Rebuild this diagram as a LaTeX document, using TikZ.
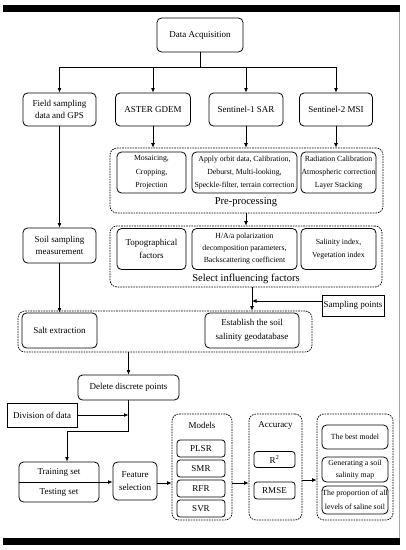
\documentclass[tikz,border=0pt]{standalone}
\usepackage{fontspec}
\setmainfont{Liberation Serif}
\usetikzlibrary{arrows.meta,calc}
\begin{document}
\begin{tikzpicture}[x=1pt,y=-1pt,
  box/.style={draw,rounded corners=4.5pt,line width=0.8pt,align=center,inner sep=0pt,font=\fontsize{9}{12.5}\selectfont},
  small/.style={box,font=\fontsize{7.8}{13.3}\selectfont},
  sq/.style={draw,line width=0.8pt,align=center,inner sep=0pt,font=\fontsize{9}{12}\selectfont},
  grp/.style={draw,rounded corners=7pt,line width=0.7pt,dash pattern=on 1.6pt off 1pt,inner sep=0pt},
  lbl/.style={inner sep=0pt,font=\fontsize{9}{12}\selectfont},
  biglbl/.style={inner sep=0pt,font=\fontsize{10.5}{13}\selectfont},
  arr/.style={-{Latex[length=4.5pt,width=3.8pt]},line width=0.7pt},
  ln/.style={line width=0.7pt}]
\useasboundingbox (0,0) rectangle (406,550);
% frame bars
\fill[black] (3,5) rectangle (400,11.5);
\fill[black] (3,538) rectangle (400,545);
\draw[black!35,line width=1.2pt] (399.5,11.5) -- (399.5,538);

% top row
\node[box,minimum width=86pt,minimum height=34pt] (da) at (200,35) {Data Acquisition};
\node[box,minimum width=73pt,minimum height=33pt] (field) at (59.5,109.5) {Field sampling\\data and GPS};
\node[box,minimum width=75pt,minimum height=33pt] (aster) at (153,109.5) {ASTER GDEM};
\node[box,minimum width=74pt,minimum height=33pt] (s1) at (246,109.5) {Sentinel-1 SAR};
\node[box,minimum width=73pt,minimum height=33pt] (s2) at (336,109.5) {Sentinel-2 MSI};
\coordinate (hub) at (200,67);
\draw[ln] (da.south) -- (hub);
\draw[ln] (field.north |- hub) -- (s2.north |- hub);
\foreach \n in {field,aster,s1,s2} \draw[arr] (\n.north |- hub) -- (\n.north);

% pre-processing
\node[grp,minimum width=273pt,minimum height=65pt] (pre) at (246.5,180.5) {};
\node[small,minimum width=69pt,minimum height=41pt] (mos) at (151.5,172.5) {Mosaicing,\\Cropping,\\Projection};
\node[small,minimum width=105pt,minimum height=41pt] (orb) at (244.5,172.5) {Apply orbit data, Calibration,\\Deburst, Multi-looking,\\Speckle-filter, terrain correction};
\node[small,minimum width=75pt,minimum height=41pt] (rad) at (338.5,172.5) {Radiation Calibration\\Atmospheric correction\\Layer Stacking};
\node[biglbl] (prel) at (246,202) {Pre-processing};
\draw[arr] (aster.south) -- (aster.south |- pre.north);
\draw[arr] (s1.south) -- (s1.south |- pre.north);
\draw[arr] (s2.south) -- (s2.south |- pre.north);

% soil sampling
\node[box,minimum width=73pt,minimum height=35pt] (soil) at (59.5,245.5) {Soil sampling\\measurement};
\draw[arr] (field.south) -- (soil.north);

% select influencing factors
\node[grp,minimum width=272pt,minimum height=61pt] (sel) at (246,256.5) {};
\node[box,minimum width=69pt,minimum height=41pt,font=\fontsize{9}{13.3}\selectfont] (topo) at (151.5,249) {Topographical\\factors};
\node[small,minimum width=105pt,minimum height=41pt,font=\fontsize{7.8}{12}\selectfont] (haa) at (244.5,249) {H/A/a polarization\\decomposition parameters,\\Backscattering coefficient};
\node[small,minimum width=75pt,minimum height=41pt] (sal) at (338.5,249) {Salinity index,\\Vegetation index};
\node[biglbl] (sell) at (246,278.5) {Select influencing factors};
\draw[arr] (pre.south -| s1.south) -- (sel.north -| s1.south);

% sampling points and extraction group
\node[sq,minimum width=62pt,minimum height=21pt] (samp) at (353,305.5) {Sampling points};
\node[grp,minimum width=294pt,minimum height=41pt] (ext) at (165,331.5) {};
\node[box,minimum width=75pt,minimum height=35pt] (salt) at (59.5,330.5) {Salt extraction};
\node[box,minimum width=94pt,minimum height=35pt,font=\fontsize{9}{14}\selectfont] (est) at (252,330.5) {Establish the soil\\salinity geodatabase};
\draw[arr] (soil.south) -- (salt.north);
\draw[arr] (sel.south -| est.north) -- (ext.north -| est.north);
\draw[arr] ([yshift=4.5pt]samp.west) -- ([yshift=4.5pt]samp.west -| est.north);

% delete, division
\node[box,minimum width=101pt,minimum height=25pt] (del) at (128.5,387.5) {Delete discrete points};
\draw[arr] (ext.south -| del.north) -- (del.north);
\node[sq,minimum width=70pt,minimum height=24pt] (div) at (42,415) {Division of data};
\coordinate (j1) at (128.5,431);
\coordinate (j2) at (67,431);

% training/testing
\node[box,minimum width=80pt,minimum height=40pt] (tt) at (59,482) {};
\draw[ln] (tt.west) -- (tt.east);
\node[lbl] (train) at (59,472.5) {Training set};
\node[lbl] (test) at (59,492) {Testing set};
\draw[ln] (del.south) -- (j1) -- (j2);
\draw[arr] (j2) -- (j2 |- tt.north);
\draw[arr] (div.east) -- (div.east -| j1);

\node[box,minimum width=44pt,minimum height=38pt,font=\fontsize{9}{13.3}\selectfont] (feat) at (135,481) {Feature\\selection};
\draw[arr] (tt.east) -- (tt.east -| feat.west);

% models
\node[grp,minimum width=60pt,minimum height=106pt] (mod) at (202,467) {};
\node[lbl] (modl) at (202,425) {Models};
\node[box,minimum width=48pt,minimum height=17pt,rounded corners=3pt] (plsr) at (201,448.5) {PLSR};
\node[box,minimum width=48pt,minimum height=17pt,rounded corners=3pt] (smr) at (201,468.5) {SMR};
\node[box,minimum width=48pt,minimum height=17pt,rounded corners=3pt] (rfr) at (201,488.5) {RFR};
\node[box,minimum width=48pt,minimum height=17pt,rounded corners=3pt] (svr) at (201,508.5) {SVR};
\draw[arr] ([yshift=-2pt]feat.east) -- ([yshift=-2pt]feat.east -| mod.west);

% accuracy
\node[grp,minimum width=53pt,minimum height=106pt] (acc) at (275.5,467) {};
\node[lbl] (accl) at (275.5,425) {Accuracy};
\node[box,minimum width=41pt,minimum height=16pt,rounded corners=3pt] (r2) at (274.5,459.5) {R\textsuperscript{2}};
\node[box,minimum width=41pt,minimum height=17pt,rounded corners=3pt] (rmse) at (274.5,490.5) {RMSE};
\draw[arr] ([yshift=-16pt]mod.east) -- ([yshift=-16pt]acc.west);

% outcome
\node[grp,minimum width=76pt,minimum height=106pt] (out) at (355,467) {};
\node[box,minimum width=66pt,minimum height=24pt,font=\fontsize{7.8}{11.7}\selectfont] (best) at (355,437) {The best model};
\node[box,minimum width=66pt,minimum height=25pt,font=\fontsize{7.8}{11.7}\selectfont] (gen) at (355,469.5) {Generating a soil\\salinity map};
\node[box,minimum width=66pt,minimum height=28pt,font=\fontsize{7.8}{13.5}\selectfont] (prop) at (355,500) {The proportion of all\\levels of saline soil};
\draw[arr] ([yshift=-13pt]acc.east) -- ([yshift=-13pt]out.west);
\end{tikzpicture}
\end{document}
